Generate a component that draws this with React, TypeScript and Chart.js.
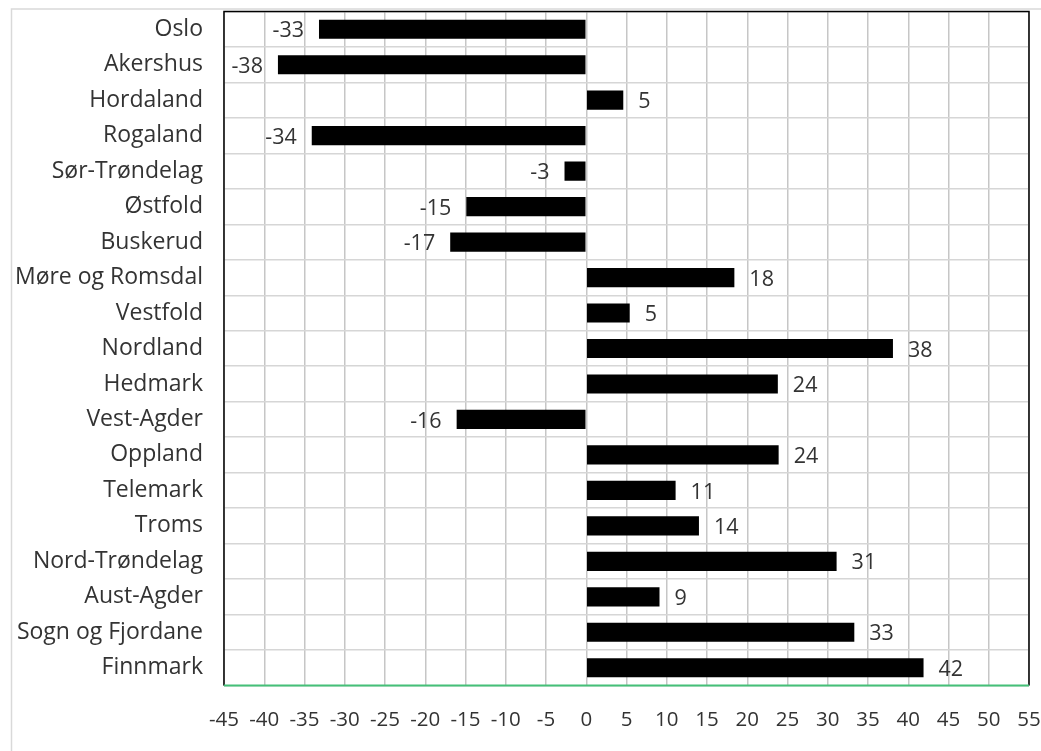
import React, { useEffect, useRef } from "react";
import { Chart, registerables } from "chart.js";

Chart.register(...registerables);

const categories = [
  "Oslo",
  "Akershus",
  "Hordaland",
  "Rogaland",
  "Sør-Trøndelag",
  "Østfold",
  "Buskerud",
  "Møre og Romsdal",
  "Vestfold",
  "Nordland",
  "Hedmark",
  "Vest-Agder",
  "Oppland",
  "Telemark",
  "Troms",
  "Nord-Trøndelag",
  "Aust-Agder",
  "Sogn og Fjordane",
  "Finnmark",
];

const values = [
  -33.2, -38.3, 4.6, -34.1, -2.7, -14.9, -16.9, 18.4, 5.4, 38.1, 23.8, -16.1,
  23.9, 11.1, 14.0, 31.1, 9.1, 33.3, 41.9,
];

const xMin = -45;
const xMax = 55;
const xStep = 5;

const FONT = "'Open Sans', 'Noto Sans', sans-serif";
const TEXT = "#333333";

const PLOT_LEFT = 224;
const PLOT_RIGHT = 1029;
const PLOT_TOP = 11.5;
const PLOT_BOTTOM = 685.5;
const W = 1041;
const H = 751;

const frame = {
  id: "frame",
  beforeDraw(chart: any) {
    const ctx = chart.ctx;
    ctx.save();
    ctx.fillStyle = "#ffffff";
    ctx.fillRect(0, 0, W, H);
    ctx.strokeStyle = "#d9d9d9";
    ctx.lineWidth = 1.5;
    ctx.beginPath();
    ctx.moveTo(11.5, H);
    ctx.lineTo(11.5, 9);
    ctx.lineTo(W, 9);
    ctx.stroke();
    ctx.restore();
  },
  afterDatasetsDraw(chart: any) {
    const ctx = chart.ctx;
    const a = chart.chartArea;
    ctx.save();
    ctx.strokeStyle = "#000000";
    ctx.lineWidth = 1.5;
    ctx.beginPath();
    ctx.moveTo(a.left, a.bottom);
    ctx.lineTo(a.left, a.top);
    ctx.lineTo(a.right, a.top);
    ctx.lineTo(a.right, a.bottom);
    ctx.stroke();
    ctx.strokeStyle = "#45c078";
    ctx.lineWidth = 2;
    ctx.beginPath();
    ctx.moveTo(a.left, a.bottom);
    ctx.lineTo(a.right, a.bottom);
    ctx.stroke();

    // data labels
    const meta = chart.getDatasetMeta(0);
    ctx.fillStyle = TEXT;
    ctx.font = `21.5px ${FONT}`;
    ctx.textBaseline = "middle";
    meta.data.forEach((el: any, i: number) => {
      const v = values[i];
      const txt = String(Math.round(v));
      if (v >= 0) {
        ctx.textAlign = "left";
        ctx.fillText(txt, el.x + 15, el.y + 2);
      } else {
        ctx.textAlign = "right";
        ctx.fillText(txt, el.x - 15, el.y + 2);
      }
    });
    ctx.restore();
  },
};

export default function App() {
  const ref = useRef<HTMLCanvasElement | null>(null);

  useEffect(() => {
    document.body.style.margin = "0";
    if (!ref.current) return;
    const chart = new Chart(ref.current, {
      type: "bar",
      data: {
        labels: categories,
        datasets: [
          {
            data: values,
            backgroundColor: "#000000",
            borderWidth: 0,
            barPercentage: 0.54,
            categoryPercentage: 1,
          },
        ],
      },
      options: {
        indexAxis: "y",
        animation: false,
        responsive: false,
        maintainAspectRatio: false,
        devicePixelRatio: 1,
        layout: {
          padding: {
            left: 0,
            right: W - PLOT_RIGHT,
            top: PLOT_TOP,
            bottom: 0,
          },
        },
        plugins: {
          legend: { display: false },
          tooltip: { enabled: false },
          title: { display: false },
        },
        scales: {
          x: {
            type: "linear",
            min: xMin,
            max: xMax,
            ticks: {
              stepSize: xStep,
              color: TEXT,
              font: { family: FONT, size: 20.5 },
              padding: 22,
              maxRotation: 0,
              autoSkip: false,
            },
            grid: {
              color: "#c6c6c6",
              lineWidth: 1.5,
              drawTicks: false,
            },
            border: { display: false },
            afterFit: (scale: any) => {
              scale.height = H - PLOT_BOTTOM;
              scale.paddingLeft = 0;
              scale.paddingRight = 0;
              scale.paddingTop = 0;
              scale.paddingBottom = 0;
            },
          },
          y: {
            type: "category",
            offset: true,
            ticks: {
              color: TEXT,
              font: { family: FONT, size: 23 },
              padding: 21,
              autoSkip: false,
            },
            grid: {
              offset: true,
              color: "#d6d6d6",
              lineWidth: 1.5,
              drawTicks: false,
            },
            border: { display: false },
            afterFit: (scale: any) => {
              scale.width = PLOT_LEFT;
              scale.paddingLeft = 0;
              scale.paddingRight = 0;
              scale.paddingTop = 0;
              scale.paddingBottom = 0;
            },
          },
        },
      },
      plugins: [frame],
    });
    return () => chart.destroy();
  }, []);

  return (
    <div style={{ position: "absolute", left: 0, top: 0, width: W, height: H }}>
      <canvas ref={ref} width={W} height={H} style={{ display: "block" }} />
    </div>
  );
}
